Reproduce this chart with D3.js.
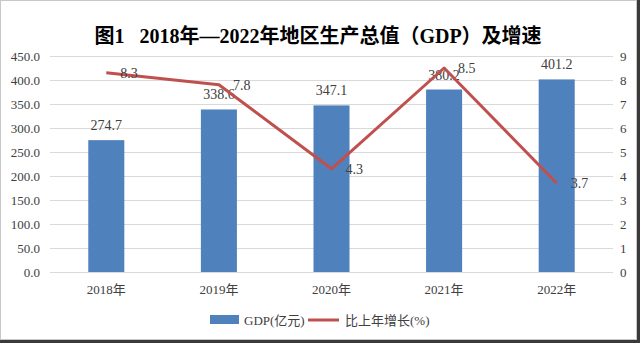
<html>

<head>
  <script src="https://d3js.org/d3.v7.min.js"></script>
  <style>
    body {
      margin: 0;
      background: #ffffff;
    }

    text {
      font-family: "Liberation Serif", "Times New Roman", "Noto Sans CJK SC", serif;
      fill: #404040;
    }
  </style>
</head>

<body>
  <div id="chart"></div>
</body>

<script>
  var years = ["2018年", "2019年", "2020年", "2021年", "2022年"];
  var gdp = [274.7, 338.6, 347.1, 380.2, 401.2];     // 亿元
  var growth = [8.3, 7.8, 4.3, 8.5, 3.7];            // %
  var gdpTicks = [0, 50, 100, 150, 200, 250, 300, 350, 400, 450];
  var growthTicks = [0, 1, 2, 3, 4, 5, 6, 7, 8, 9];

  var width = 640, height = 343;
  var plotLeft = 50, plotRight = 613, plotTop = 56, plotBottom = 272;

  var svg = d3.select("#chart").append("svg")
    .attr("width", width).attr("height", height);

  // frame with a dark edge on the right and bottom
  svg.append("rect").attr("x", 637).attr("y", 0).attr("width", 3).attr("height", height).style("fill", "#3a3a3a");
  svg.append("rect").attr("x", 0).attr("y", 340).attr("width", width).attr("height", 3).style("fill", "#3a3a3a");
  svg.append("rect").attr("x", 0.5).attr("y", 0.5).attr("width", 636).attr("height", 339)
    .style("fill", "none").style("stroke", "#c8c8c8");

  var x = d3.scaleBand().domain(years).range([plotLeft, plotRight])
    .paddingInner(0.68).paddingOuter(0.34);
  var y = d3.scaleLinear().domain([0, 450]).range([plotBottom, plotTop]);
  var y2 = d3.scaleLinear().domain([0, 9]).range([plotBottom, plotTop]);

  // title
  svg.append("text").attr("x", 318).attr("y", 43)
    .attr("text-anchor", "middle")
    .style("font-size", "20px").style("font-weight", "bold").style("fill", "#000")
    .text("图1\u00a0\u00a0\u00a02018年—2022年地区生产总值（GDP）及增速");

  // gridlines
  svg.append("g").selectAll("line").data(gdpTicks.slice(1)).enter().append("line")
    .attr("x1", plotLeft).attr("x2", plotRight)
    .attr("y1", function(d) { return Math.round(y(d)) + 0.5; })
    .attr("y2", function(d) { return Math.round(y(d)) + 0.5; })
    .style("stroke", "#d9d9d9").style("stroke-width", 1);

  // left axis
  var yAxis = svg.append("g").attr("transform", "translate(" + plotLeft + ",0)")
    .call(d3.axisLeft(y).tickValues(gdpTicks).tickFormat(d3.format(".1f")).tickSize(0).tickPadding(10));
  yAxis.select(".domain").remove();
  yAxis.attr("font-family", null).attr("font-size", null);
  yAxis.selectAll("text").style("font-size", "13px");

  // right axis
  var y2Axis = svg.append("g").attr("transform", "translate(" + plotRight + ",0)")
    .call(d3.axisRight(y2).tickValues(growthTicks).tickSize(0).tickPadding(7));
  y2Axis.select(".domain").remove();
  y2Axis.attr("font-family", null).attr("font-size", null);
  y2Axis.selectAll("text").style("font-size", "13px");

  // bars
  svg.append("g").selectAll("rect").data(gdp).enter().append("rect")
    .attr("x", function(d, i) { return x(years[i]); })
    .attr("y", function(d) { return y(d); })
    .attr("width", x.bandwidth())
    .attr("height", function(d) { return plotBottom - y(d); })
    .style("fill", "#4f81bd");

  // bar value labels
  svg.append("g").selectAll("text").data(gdp).enter().append("text")
    .attr("x", function(d, i) { return x(years[i]) + x.bandwidth() / 2; })
    .attr("y", function(d) { return y(d) - 10; })
    .attr("text-anchor", "middle")
    .style("font-size", "14px")
    .text(function(d) { return d.toFixed(1); });

  // x axis
  svg.append("line").attr("x1", plotLeft).attr("x2", plotRight)
    .attr("y1", plotBottom + 0.5).attr("y2", plotBottom + 0.5)
    .style("stroke", "#d9d9d9");
  svg.append("g").selectAll("text").data(years).enter().append("text")
    .attr("x", function(d) { return x(d) + x.bandwidth() / 2; })
    .attr("y", plotBottom + 22)
    .attr("text-anchor", "middle")
    .style("font-size", "13px")
    .text(function(d) { return d; });

  // growth line
  var line = d3.line()
    .x(function(d, i) { return x(years[i]) + x.bandwidth() / 2; })
    .y(function(d) { return y2(d); });

  svg.append("path").datum(growth)
    .attr("d", line)
    .style("fill", "none").style("stroke", "#c0504d").style("stroke-width", 3)
    .style("stroke-linejoin", "round");

  svg.append("g").selectAll("text").data(growth).enter().append("text")
    .attr("x", function(d, i) { return x(years[i]) + x.bandwidth() / 2 + 14; })
    .attr("y", function(d) { return y2(d); })
    .attr("dy", "0.35em")
    .style("font-size", "14px")
    .text(function(d) { return d.toFixed(1); });

  // legend
  var legend = svg.append("g").attr("transform", "translate(0,320)");
  legend.append("rect").attr("x", 210).attr("y", -5).attr("width", 29).attr("height", 9)
    .style("fill", "#4f81bd");
  legend.append("text").attr("x", 244).attr("y", 0).attr("dy", "0.35em")
    .style("font-size", "13px").text("GDP(亿元)");
  legend.append("line").attr("x1", 308).attr("x2", 339).attr("y1", 0).attr("y2", 0)
    .style("stroke", "#c0504d").style("stroke-width", 3);
  legend.append("text").attr("x", 345).attr("y", 0).attr("dy", "0.35em")
    .style("font-size", "13px").text("比上年增长(%)");
</script>

</html>
